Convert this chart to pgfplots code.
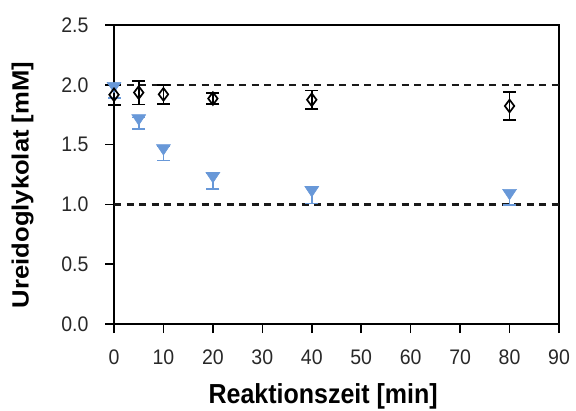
\documentclass[border=0pt]{standalone}
\usepackage{graphicx}
\usepackage{pgfplots}
\pgfplotsset{compat=1.18}
\usepackage{fontspec}
\setmainfont{Liberation Sans}
\usetikzlibrary{calc}
\definecolor{ubblue}{RGB}{104,152,216}
\definecolor{ticktext}{RGB}{40,40,40}

% downward triangle whose tip sits just below the data point
\pgfdeclareplotmark{dtri}{%
  \pgfpathmoveto{\pgfqpoint{-7bp}{8.5bp}}%
  \pgfpathlineto{\pgfqpoint{7bp}{8.5bp}}%
  \pgfpathlineto{\pgfqpoint{0bp}{-2bp}}%
  \pgfpathclose
  \pgfusepathqfillstroke}

% Ureidoglykolat concentration over reaction time (means with standard deviations)
\pgfplotstableread{
t   c     e
0   1.917 0.083
5   1.935 0.10
10  1.92  0.08
20  1.885 0.046
40  1.875 0.078
80  1.823 0.115
}\controlseries

\pgfplotstableread{
t   c     e
0   1.95  0.06
5   1.679 0.048
10  1.429 0.062
20  1.197 0.067
40  1.079 0.071
80  1.055 0.062
}\enzymeseries

\begin{document}
\begin{tikzpicture}
\begin{axis}[
  name=ax,
  scale only axis,
  width=445bp, height=299bp,
  xmin=0, xmax=90, ymin=0, ymax=2.5,
  xtick={0,10,...,90},
  ytick={0,0.5,...,2.5},
  /pgf/number format/assume math mode=true,
  xticklabel={\scalebox{1}[1.08]{\pgfmathprintnumber{\tick}}},
  yticklabel={\scalebox{1}[1.08]{\pgfmathprintnumber[fixed,fixed zerofill,precision=1]{\tick}}},
  tick align=outside,
  tick pos=left,
  major tick length=9bp,
  axis line style={line width=1.8bp},
  every tick/.style={line width=1.6bp, black},
  ticklabel style={font=\fontsize{19.5bp}{21bp}\selectfont, text=ticktext},
  xticklabel style={yshift=-13bp},
  yticklabel style={xshift=-13bp},
  xlabel={\scalebox{1}[1.1]{\textbf{Reaktionszeit [min]}}},
  ylabel={\scalebox{1.09}[1]{\textbf{Ureidoglykolat [mM]}}},
  xlabel style={font=\fontsize{25bp}{27bp}\selectfont, at={(rel axis cs:0.47,-0.241)}, anchor=center},
  ylabel style={font=\fontsize{23.5bp}{25bp}\selectfont, at={(rel axis cs:-0.2056,0.465)}, anchor=center},
  clip=false,
]
% reference levels
\draw[black!90, line width=2.4bp, dash pattern=on 7bp off 5.5bp]
  (axis cs:0,2) -- (axis cs:90,2);
\draw[black!90, line width=2.4bp, dash pattern=on 7bp off 5.5bp]
  (axis cs:0,1) -- (axis cs:90,1);

\addplot[
  only marks, ubblue,
  mark=dtri,
  mark options={fill=ubblue, draw=ubblue, line width=0.5bp},
  error bars/.cd, y dir=both, y explicit,
  error bar style={line width=1.8bp, ubblue},
  error mark options={rotate=90, mark size=6.5bp, line width=1.8bp, ubblue},
] table[x=t, y=c, y error=e] {\enzymeseries};

\addplot[
  only marks, black,
  mark=diamond, mark size=6.3bp,
  mark options={line width=1.7bp, fill=white, draw=black},
  error bars/.cd, y dir=both, y explicit,
  error bar style={line width=1.8bp, black},
  error mark options={rotate=90, mark size=6.5bp, line width=1.8bp, black},
] table[x=t, y=c, y error=e] {\controlseries};
\end{axis}
\pgfresetboundingbox
\path ($(ax.south west)+(-114bp,-86bp)$) rectangle ($(ax.north east)+(17bp,25bp)$);
\end{tikzpicture}
\end{document}
